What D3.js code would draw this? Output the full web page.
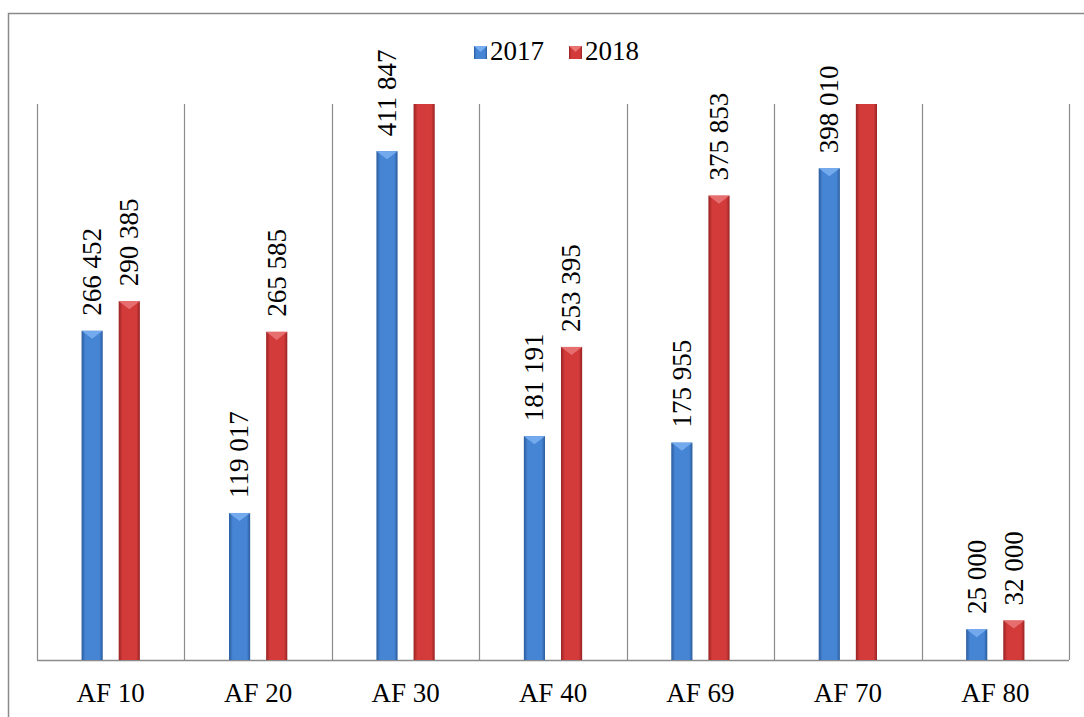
<!DOCTYPE html>
<html>
<head>
<meta charset="utf-8">
<script src="https://cdn.jsdelivr.net/npm/d3@7"></script>
<style>
  body { margin: 0; background: #fff; }
</style>
</head>
<body>
<script>
// chart data
var categories = ["AF 10", "AF 20", "AF 30", "AF 40", "AF 69", "AF 70", "AF 80"];
var years      = ["2017", "2018"];
var values2017 = [266452, 119017, 411847, 181191, 175955, 398010, 25000];
var values2018 = [290385, 265585, 480000, 253395, 375853, 470000, 32000];   // AF 30 / AF 70 run past the axis, not labelled
var yMax       = 450000;

var colors = {
  "2017": {mid: "#4684d4", dark: "#2b5c9c", light: "#78aef0"},
  "2018": {mid: "#d33a3a", dark: "#982323", light: "#e97474"}
};
var labelFont = "'Liberation Serif'";
var labelSize = 27;

var fmt = function(v) { return d3.format(",")(v).replace(/,/g, " "); };

var svg = d3.select("body").append("svg")
  .attr("width", 1084)
  .attr("height", 717);

// gradients for the bevelled bars
var defs = svg.append("defs");
years.forEach(function(yr) {
  var g = defs.append("linearGradient")
    .attr("id", "grad" + yr)
    .attr("x1", "0%").attr("x2", "100%").attr("y1", "0%").attr("y2", "0%");
  g.append("stop").attr("offset", "0%").attr("stop-color", colors[yr].dark);
  g.append("stop").attr("offset", "18%").attr("stop-color", colors[yr].mid);
  g.append("stop").attr("offset", "84%").attr("stop-color", colors[yr].mid);
  g.append("stop").attr("offset", "100%").attr("stop-color", colors[yr].dark);
});

// outer frame
svg.append("path")
  .attr("d", "M8.5,717 L8.5,13.5 L1084,13.5")
  .attr("fill", "none")
  .attr("stroke", "#8a8a8a")
  .attr("stroke-width", 1.5);

var x0 = d3.scaleBand().domain(categories).range([37, 1069]);
var x1 = d3.scaleBand().domain(years).range([0, x0.bandwidth()])
  .paddingInner(0.43).paddingOuter(1.2);
var y = d3.scaleLinear().domain([0, yMax]).range([660, 104]).clamp(true);

// category separators
var sep = categories.map(function(c) { return x0(c); }).concat([x0.range()[1]]);
svg.append("g").selectAll("line")
  .data(sep)
  .join("line")
    .attr("x1", function(d) { return Math.round(d) + 0.5; })
    .attr("x2", function(d) { return Math.round(d) + 0.5; })
    .attr("y1", y(yMax))
    .attr("y2", y(0))
    .attr("stroke", "#8c8c8c")
    .attr("stroke-width", 1.2);

// baseline
svg.append("line")
  .attr("x1", 37).attr("x2", 1069)
  .attr("y1", y(0) + 0.5).attr("y2", y(0) + 0.5)
  .attr("stroke", "#8c8c8c")
  .attr("stroke-width", 1.5);

var rows = [];
categories.forEach(function(c, i) {
  rows.push({cat: c, year: "2017", value: values2017[i]});
  rows.push({cat: c, year: "2018", value: values2018[i]});
});

var bars = svg.append("g").selectAll("g")
  .data(rows)
  .join("g");

bars.append("rect")
  .attr("x", function(d) { return x0(d.cat) + x1(d.year); })
  .attr("y", function(d) { return y(d.value); })
  .attr("width", x1.bandwidth())
  .attr("height", function(d) { return y(0) - y(d.value); })
  .attr("fill", function(d) { return "url(#grad" + d.year + ")"; });

// bevel on top of bars that end inside the plot
bars.filter(function(d) { return d.value <= yMax; })
  .append("path")
    .attr("d", function(d) {
      var bx = x0(d.cat) + x1(d.year), w = x1.bandwidth(), t = y(d.value);
      return "M" + bx + "," + t + "L" + (bx + w) + "," + t +
             "L" + (bx + w / 2) + "," + (t + w * 0.38) + "Z";
    })
    .attr("fill", function(d) { return colors[d.year].light; })
    .attr("opacity", 0.9);

// data labels
bars.filter(function(d) { return d.value <= yMax; })
  .append("text")
    .attr("transform", function(d) {
      var cx = x0(d.cat) + x1(d.year) + x1.bandwidth() / 2;
      return "translate(" + cx + "," + (y(d.value) - 15) + ") rotate(-90)";
    })
    .attr("dy", "0.33em")
    .attr("font-size", labelSize)
    .style("font-family", labelFont)
    .text(function(d) { return fmt(d.value); });

// x axis labels
var xAxis = d3.axisBottom(x0).tickSize(0).tickPadding(23);
svg.append("g")
  .attr("transform", "translate(0," + y(0) + ")")
  .call(xAxis)
  .call(function(g) { g.select(".domain").remove(); })
  .selectAll("text")
    .attr("font-size", labelSize)
    .attr("fill", "#000")
    .style("font-family", labelFont);

// legend
var legend = svg.append("g");
var legendPos = [{year: "2017", x: 474}, {year: "2018", x: 569}];
legendPos.forEach(function(p) {
  legend.append("rect")
    .attr("x", p.x).attr("y", 46)
    .attr("width", 13).attr("height", 13)
    .attr("fill", "url(#grad" + p.year + ")");
  legend.append("path")
    .attr("d", "M" + p.x + ",46L" + (p.x + 13) + ",46L" + (p.x + 6.5) + ",52Z")
    .attr("fill", colors[p.year].light);
  legend.append("text")
    .attr("x", p.x + 16).attr("y", 60)
    .attr("font-size", labelSize)
    .style("font-family", labelFont)
    .text(p.year);
});
</script>
</body>
</html>
